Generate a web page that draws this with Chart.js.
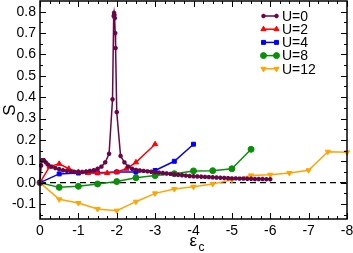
<!DOCTYPE html>
<html>
<head>
<meta charset="utf-8">
<script src="https://cdn.jsdelivr.net/npm/chart.js@4/dist/chart.umd.min.js"></script>
<style>
  html, body { margin: 0; padding: 0; background: #fff; }
  #wrap { width: 353px; height: 253px; }
</style>
</head>
<body>
<div id="wrap"><canvas id="grafica" width="353" height="253"></canvas></div>
<script>
// series labels
const labels = ['U=0', 'U=2', 'U=4', 'U=8', 'U=12'];

// U=0 (dense sweep, sharp peak near -1.93)
const eps0 = [0, -0.03, -0.06, -0.1, -0.15, -0.2, -0.3, -0.4, -0.5, -0.6, -0.7, -0.8, -0.9, -1.0,
  -1.1, -1.2, -1.3, -1.4, -1.5, -1.6, -1.7, -1.8, -1.89, -1.92, -1.93, -1.94, -1.95, -1.96, -1.97,
  -2.0, -2.1, -2.2, -2.3, -2.4, -2.5, -2.6, -2.7, -2.8, -2.9, -3.0, -3.1, -3.2, -3.3, -3.4, -3.5,
  -3.6, -3.7, -3.8, -3.9, -4.0, -4.1, -4.2, -4.3, -4.4, -4.5, -4.6, -4.7, -4.8, -4.9, -5.0, -5.1,
  -5.2, -5.3, -5.4, -5.5, -5.6, -5.7, -5.8, -5.9, -6.0];
const s0 = [0, 0.08, 0.105, 0.105, 0.095, 0.085, 0.075, 0.068, 0.063, 0.058, 0.055, 0.052, 0.05, 0.05,
  0.05, 0.052, 0.055, 0.058, 0.065, 0.075, 0.095, 0.135, 0.39, 0.78, 0.795, 0.785, 0.77, 0.70, 0.63,
  0.33, 0.125, 0.095, 0.075, 0.065, 0.06, 0.057, 0.055, 0.053, 0.051, 0.049, 0.047, 0.045, 0.043, 0.041, 0.039,
  0.037, 0.035, 0.033, 0.031, 0.030, 0.029, 0.028, 0.027, 0.026, 0.025, 0.024, 0.023, 0.022, 0.021, 0.020, 0.020,
  0.019, 0.019, 0.018, 0.018, 0.017, 0.017, 0.017, 0.016, 0.016];

// U=2
const eps2 = [0, -0.25, -0.5, -0.75, -1.0, -1.25, -1.5, -1.75, -2.0, -2.25, -2.5, -3.0];
const s2 = [0, 0.075, 0.088, 0.065, 0.05, 0.045, 0.045, 0.045, 0.05, 0.065, 0.095, 0.18];

// U=4
const eps4 = [0, -0.5, -1.0, -1.5, -2.0, -2.5, -3.0, -3.5, -4.0];
const s4 = [0, 0.041, 0.045, 0.046, 0.05, 0.05, 0.057, 0.10, 0.18];

// U=8
const eps8 = [0, -0.5, -1.0, -1.5, -2.0, -2.5, -3.0, -3.5, -4.0, -4.5, -5.0, -5.5];
const s8 = [0, -0.022, -0.017, -0.006, 0.005, 0.023, 0.033, 0.042, 0.055, 0.056, 0.065, 0.156];

// U=12
const eps12 = [0, -0.5, -1.0, -1.5, -2.0, -2.5, -3.0, -3.5, -4.0, -4.5, -5.0, -5.5, -6.0, -6.5, -7.0, -7.5, -8.0];
const s12 = [0, -0.078, -0.095, -0.123, -0.131, -0.089, -0.05, -0.03, -0.019, -0.006, 0.013, 0.034, 0.037, 0.045, 0.058, 0.145, 0.142];

// tick labels
const xTicks = [0, -1, -2, -3, -4, -5, -6, -7, -8];
const yTicks = [-0.1, 0, 0.1, 0.2, 0.3, 0.4, 0.5, 0.6, 0.7, 0.8];

const colores = ['#670748', '#ff0000', '#0000ff', '#0a8f0a', '#ffa500'];
const marcas = ['star', 'triangle', 'rect', 'circle', 'triangle'];
const giros = [0, 0, 0, 0, 180];
const radios = [2.2, 3, 2.8, 3, 3];

const xs = [eps0, eps2, eps4, eps8, eps12];
const ys = [s0, s2, s4, s8, s12];

const FONT = '"Liberation Sans", Arial, sans-serif';

function pares(ex, sy) {
  return ex.map((v, i) => ({ x: v, y: sy[i] }));
}

const datasets = labels.map((lab, i) => ({
  label: lab,
  data: pares(xs[i], ys[i]),
  borderColor: colores[i],
  backgroundColor: colores[i],
  borderWidth: 1.5,
  pointStyle: marcas[i],
  pointRotation: giros[i],
  pointRadius: radios[i],
  pointBorderWidth: i === 0 ? 1.6 : 1,
  tension: 0,
  clip: 4
}));

// frame, inward ticks, zero line, legend and x title
const extras = {
  id: 'extras',
  beforeDatasetsDraw(chart) {
    const { ctx, chartArea: a, scales: { y } } = chart;
    const y0 = y.getPixelForValue(0);
    ctx.save();
    ctx.strokeStyle = '#000';
    ctx.lineWidth = 1.2;
    ctx.setLineDash([6, 4]);
    ctx.beginPath();
    ctx.moveTo(a.left, y0);
    ctx.lineTo(a.right, y0);
    ctx.stroke();
    ctx.restore();
  },
  afterDraw(chart) {
    const { ctx, chartArea: a, scales: { x, y } } = chart;
    ctx.save();
    ctx.strokeStyle = '#000';
    ctx.lineWidth = 1.5;
    ctx.strokeRect(a.left, a.top, a.right - a.left, a.bottom - a.top);

    ctx.lineWidth = 1;
    ctx.beginPath();
    // x ticks every 0.25
    for (let k = 0; k <= 32; k++) {
      const v = -k * 0.25;
      const px = Math.round(x.getPixelForValue(v)) + 0.5;
      const len = k % 4 === 0 ? 6 : 3;
      ctx.moveTo(px, a.bottom); ctx.lineTo(px, a.bottom - len);
      ctx.moveTo(px, a.top); ctx.lineTo(px, a.top + len);
    }
    // y ticks every 0.05
    for (let k = -3; k <= 17; k++) {
      const v = k * 0.05;
      if (v < y.min || v > y.max) continue;
      const py = Math.round(y.getPixelForValue(v)) + 0.5;
      const len = k % 2 === 0 ? 6 : 3;
      ctx.moveTo(a.left, py); ctx.lineTo(a.left + len, py);
      ctx.moveTo(a.right, py); ctx.lineTo(a.right - len, py);
    }
    ctx.stroke();

    // legend
    const lx0 = 263, lx1 = 277, ly0 = 16, dy = 13.2;
    chart.data.datasets.forEach((ds, i) => {
      const ly = ly0 + i * dy;
      ctx.strokeStyle = ds.borderColor;
      ctx.lineWidth = 1.5;
      ctx.beginPath();
      ctx.moveTo(lx0, ly); ctx.lineTo(lx1, ly);
      ctx.stroke();
      ctx.fillStyle = ds.backgroundColor;
      ctx.lineWidth = ds.pointBorderWidth;
      const opt = { pointStyle: ds.pointStyle, rotation: ds.pointRotation, radius: ds.pointRadius, borderWidth: ds.pointBorderWidth };
      Chart.helpers.drawPoint(ctx, opt, lx0 + 0.5, ly);
      Chart.helpers.drawPoint(ctx, opt, lx1 - 0.5, ly);
      ctx.fillStyle = '#000';
      ctx.font = '14px ' + FONT;
      ctx.textAlign = 'left';
      ctx.textBaseline = 'middle';
      ctx.fillText(ds.label, 282, ly + 1);
    });

    // x title: epsilon with subscript c
    ctx.fillStyle = '#000';
    ctx.textBaseline = 'alphabetic';
    ctx.font = '17px ' + FONT;
    ctx.textAlign = 'left';
    const cx = (a.left + a.right) / 2;
    ctx.fillText('ε', cx - 4, 246);
    ctx.font = '12px ' + FONT;
    ctx.fillText('c', cx + 5, 251);
    ctx.restore();
  }
};

const canvasElement = document.getElementById('grafica');
new Chart(canvasElement.getContext('2d'), {
  type: 'line',
  data: { datasets },
  options: {
    responsive: false,
    animation: false,
    layout: { autoPadding: false, padding: { top: 1, right: 6, left: 0, bottom: 0 } },
    plugins: { legend: { display: false }, tooltip: { enabled: false } },
    scales: {
      x: {
        type: 'linear',
        reverse: true,
        min: -8,
        max: 0,
        afterBuildTicks: s => { s.ticks = xTicks.map(v => ({ value: v })); },
        afterFit: s => { s.height = 34; s.paddingLeft = 0; s.paddingRight = 0; },
        grid: { display: false, drawTicks: false },
        border: { display: false },
        ticks: {
          color: '#000',
          padding: 4,
          maxRotation: 0,
          font: { family: FONT, size: 14 },
          callback: v => (v === 0 ? '0' : String(v))
        }
      },
      y: {
        min: -0.17,
        max: 0.85,
        afterBuildTicks: s => { s.ticks = yTicks.map(v => ({ value: v })); },
        afterFit: s => { s.width = 40; s.paddingTop = 0; s.paddingBottom = 0; },
        grid: { display: false, drawTicks: false },
        border: { display: false },
        title: { display: true, text: 'S', color: '#000', padding: 0, font: { family: FONT, size: 17 } },
        ticks: {
          color: '#000',
          padding: 4,
          font: { family: FONT, size: 14 },
          callback: v => v.toFixed(1)
        }
      }
    }
  },
  plugins: [extras]
});
</script>
</body>
</html>
